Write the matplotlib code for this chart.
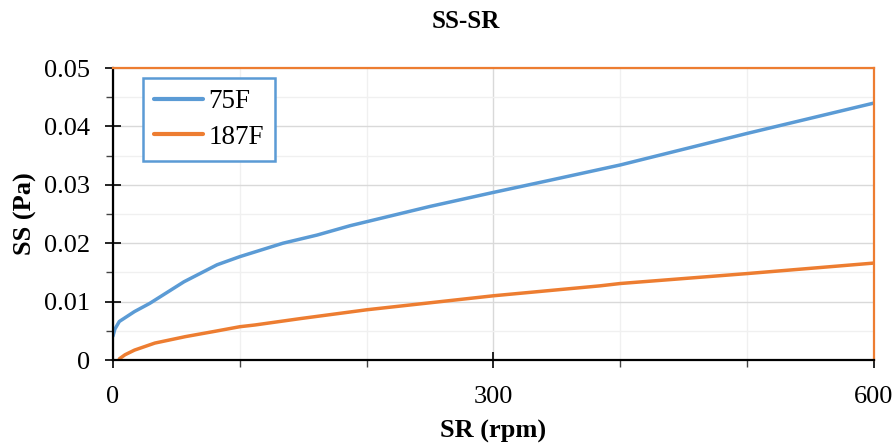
import matplotlib
matplotlib.use("Agg")
import matplotlib.pyplot as plt
from matplotlib.ticker import MultipleLocator

plt.rcParams['font.family'] = ['Liberation Serif', 'DejaVu Serif']

# values
sr_75 = [0, 1.5, 5, 17, 29, 56, 82, 100, 134, 161, 187, 250, 300, 345, 400, 500, 600]
ss_75 = [0.0041, 0.0053, 0.0066, 0.0083, 0.0097, 0.0134, 0.0163, 0.0177, 0.0200,
         0.0214, 0.0230, 0.0263, 0.0287, 0.0308, 0.0334, 0.0388, 0.0440]

sr_187 = [5, 9.5, 17, 33, 57, 80, 100, 112, 148, 200, 300, 384, 400, 500, 600]
ss_187 = [0.0002, 0.0009, 0.0017, 0.0029, 0.0040, 0.0049, 0.0057, 0.0060,
          0.0071, 0.0086, 0.0110, 0.0127, 0.0131, 0.0148, 0.0166]

series_names = ["75F", "187F"]
blue = "#5B9BD5"
orange = "#ED7D31"

fig = plt.figure(figsize=(8.96, 4.48), dpi=100)
ax = fig.add_axes([0.1261, 0.1964, 0.8493, 0.6518])

ax.plot(sr_75, ss_75, color=blue, lw=2.5, label=series_names[0], solid_capstyle='round')
ax.plot(sr_187, ss_187, color=orange, lw=2.5, label=series_names[1], solid_capstyle='round')

ax.set_xlim(0, 600)
ax.set_ylim(0, 0.05)
ax.xaxis.set_major_locator(MultipleLocator(300))
ax.xaxis.set_minor_locator(MultipleLocator(100))
ax.yaxis.set_minor_locator(MultipleLocator(0.005))
ax.set_yticks([0, 0.01, 0.02, 0.03, 0.04, 0.05])
ax.set_yticklabels(["0", "0.01", "0.02", "0.03", "0.04", "0.05"])

ax.set_axisbelow(True)
ax.grid(which='major', color='#d9d9d9', lw=1.0)
ax.grid(which='minor', color='#f0f0f0', lw=1.0)

ax.tick_params(which='major', direction='inout', length=11, width=1.2,
               labelsize=19, color='black')
ax.tick_params(which='minor', direction='out', length=5, width=1.0, color='#444444')
ax.tick_params(axis='x', which='major', pad=13)
ax.tick_params(axis='y', which='major', pad=11)

for side in ['top', 'right']:
    ax.spines[side].set_color(orange)
    ax.spines[side].set_linewidth(1.6)
for side in ['left', 'bottom']:
    ax.spines[side].set_color('black')
    ax.spines[side].set_linewidth(1.6)

ax.set_xlabel("SR (rpm)", fontsize=19, fontweight='bold', labelpad=9)
ax.set_ylabel("SS (Pa)", fontsize=19, fontweight='bold', labelpad=5)
fig.text(0.52, 0.953, "SS-SR", ha='center', va='center', fontsize=18, fontweight='bold')

leg = ax.legend(loc='upper left', bbox_to_anchor=(0.039, 0.966), fontsize=19.5,
                frameon=True, fancybox=False, handlelength=1.8, handletextpad=0.2,
                borderpad=0.42, labelspacing=0.38, borderaxespad=0)
leg.get_frame().set_edgecolor(blue)
leg.get_frame().set_linewidth(1.8)
leg.get_frame().set_alpha(1)
for line in leg.get_lines():
    line.set_linewidth(3)

fig.savefig("out.png", dpi=100)
